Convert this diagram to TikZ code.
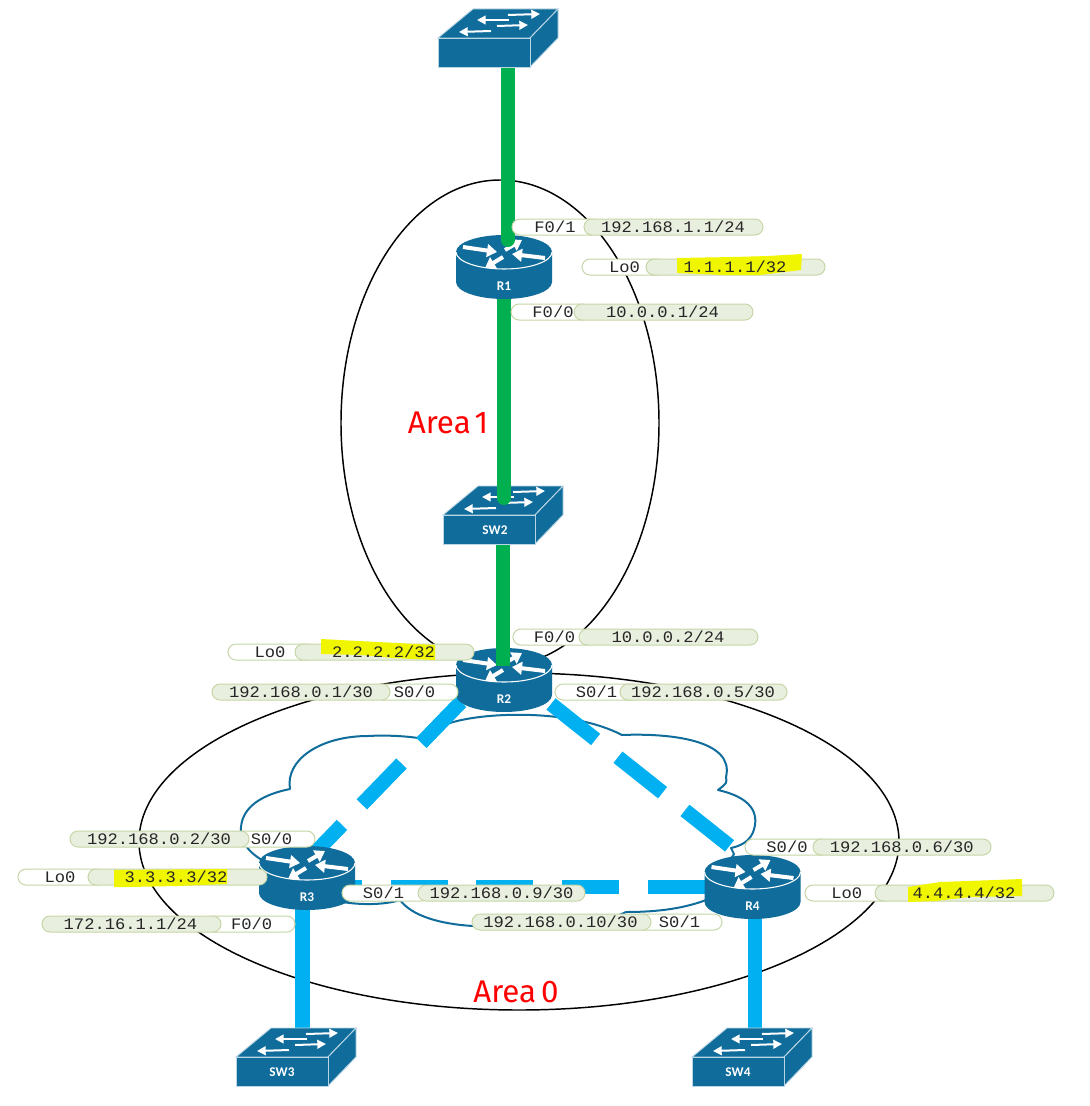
\documentclass[tikz,border=0pt]{standalone}
\usepackage{fontspec}
\setmainfont{Liberation Mono}[FakeStretch=1.07]
\newfontfamily\areafont{Fira Sans}
\newfontfamily\devfont{Carlito}[BoldFont=Carlito Bold]
\usetikzlibrary{arrows.meta}
\definecolor{devblue}{HTML}{0F6C9B}
\definecolor{devedge}{HTML}{B9D5E3}
\definecolor{linkgreen}{HTML}{00B050}
\definecolor{linkblue}{HTML}{00B0F0}
\definecolor{pillline}{HTML}{C6D6A6}
\definecolor{pillfill}{HTML}{E9EFDF}
\definecolor{marker}{HTML}{F0F500}
\tikzset{
  x=0.75pt,y=-0.75pt,
  devarrow/.style={draw=white,line width=3pt,-{Triangle[length=7.5pt,width=9.5pt]}},
  swarrow/.style={draw=white,line width=1.5pt,-{Triangle[length=6.5pt,width=6.5pt]}},
  devlabel/.style={text=white,font=\devfont\bfseries\fontsize{10}{11}\selectfont,inner sep=0pt},
  routerart/.pic={
    \fill[devblue] (-48,0) -- (-48,30) arc[start angle=180,end angle=0,x radius=48,y radius=17] -- (48,0) -- cycle;
    \fill[devblue] (0,0) ellipse[x radius=48,y radius=17];
    \draw[white,line width=0.8pt] (-48,0) arc[start angle=180,end angle=0,x radius=48,y radius=17];
    \draw[devarrow] (-41,-5) -- (-7,0);
    \draw[devarrow] (1,-2) -- (18,-12);
    \draw[devarrow] (41,6) -- (8,2);
    \draw[devarrow] (-1,5) -- (-19,16);
    \node[devlabel] (-lab) at (0,34) {#1};
  },
  switchart/.pic={
    \fill[devblue,draw=devedge,line width=0.7pt] (0,0) -- (35,-29) -- (120,-29) -- (92,0) -- cycle;
    \fill[devblue,draw=devedge,line width=0.7pt] (92,0) -- (120,-29) -- (120,0) -- (92,29) -- cycle;
    \fill[devblue,draw=devedge,line width=0.7pt] (0,0) rectangle (92,29);
    \draw[swarrow] (70,-23) -- (102,-24);
    \draw[swarrow] (71,-18) -- (39,-18);
    \draw[swarrow] (59,-12) -- (90,-13);
    \draw[swarrow] (53,-7) -- (21,-6);
    \node[devlabel] (-lab) at (46,15) {#1};
  },
  devbox/.style={inner sep=0pt,minimum width=72pt,minimum height=48pt},
  swbox/.style={inner sep=0pt,minimum width=69pt,minimum height=22pt},
  area/.style={draw=black,line width=1.1pt},
  cloudline/.style={draw=devblue,line width=1.5pt},
  greenlink/.style={draw=linkgreen,line width=10.5pt},
  bluelink/.style={draw=linkblue,line width=10.9pt},
  bluedash/.style={bluelink,dash pattern=on 42.75pt off 21.4pt},
  whitepill/.style={draw=pillline,fill=white,line width=0.75pt,rounded corners=6pt,inner sep=0pt,minimum height=12pt},
  greenpill/.style={draw=pillline,fill=pillfill,line width=0.75pt,rounded corners=6pt,inner sep=0pt,minimum height=12pt},
  pilltext/.style={inner sep=0pt,text=black!85,font=\fontsize{12}{12}\selectfont},
  areatext/.style={inner sep=0pt,text=red,font=\areafont\fontsize{23.5}{26}\selectfont},
  hl/.style={fill=marker}
}
\newcommand{\pill}[5]{\node[#5,minimum width={(#3-#2)*0.75pt}] (#1) at ({(#2+#3)/2},#4) {};}
\newcommand{\ptext}[4]{\node[pilltext] (#1) at (#2,#3) {#4};}
\begin{document}
\begin{tikzpicture}
\useasboundingbox (0,0) rectangle (1089,1106);
\fill[white] (0,0) rectangle (1089,1106);

% anchors for devices
\node[swbox] (SW1) at (484,52.5) {};
\node[swbox] (SW2) at (489,529) {};
\node[swbox] (SW3) at (282,1071.5) {};
\node[swbox] (SW4) at (738,1071.5) {};
\node[devbox] (R1) at (504,267) {};
\node[devbox] (R2) at (504,680) {};
\node[devbox] (R3) at (307,877) {};
\node[devbox] (R4) at (753.5,887) {};
\coordinate (SW1p) at (507.5,67);
\coordinate (R1p) at (507.5,240);
\coordinate (R1q) at (504,290);
\coordinate (SW2p) at (504,498);
\coordinate (SW2q) at (502.5,540);
\coordinate (R2p) at (502.5,666);
\coordinate (R2l) at (461,702);
\coordinate (R2r) at (551,704);
\coordinate (R3t) at (308,860);
\coordinate (R4t) at (731,847);
\coordinate (R4l) at (704.5,887);
\coordinate (R3r) at (340,887);
\coordinate (R3b) at (302.5,905);
\coordinate (SW3t) at (302.5,1035);
\coordinate (R4b) at (755,915);
\coordinate (SW4t) at (755,1035);

% areas
\draw[area] (500,423) ellipse[x radius=159,y radius=243];
\draw[area] (519,841.5) ellipse[x radius=380,y radius=168.5];
\node[areatext] (area1) at (448,423) {Area\hspace{0.12em}1};
\node[areatext] (area0) at (516,992) {Area\hspace{0.16em}0};

% cloud
\draw[cloudline,line join=round]
  (262,860) .. controls (245,850) and (240,838) .. (241,827)
  .. controls (243,805) and (265,794) .. (290,789)
  .. controls (285,760) and (320,736) .. (368,736)
  .. controls (385,735) and (405,736) .. (418,738)
  .. controls (425,733) .. (447,724)
  .. controls (480,712) and (570,708) .. (622,735)
  .. controls (670,733) and (735,740) .. (726,777)
  .. controls (727,783) .. (718,790)
  .. controls (740,795) and (758,805) .. (755,825)
  .. controls (753,838) and (745,845) .. (731,848)
  -- (734,854) -- (706,900)
  .. controls (680,910) and (650,912) .. (626,912)
  .. controls (590,930) and (520,928) .. (473,926)
  .. controls (440,924) and (412,916) .. (400,900)
  .. controls (385,905) and (360,905) .. (343,902)
  -- cycle;

% blue links
\draw[bluedash] (R2l) -- (R3t);
\draw[bluedash] (R2r) -- (R4t);
\draw[bluedash] (R4l) -- (R3r);
\draw[bluelink] (R3b) -- (SW3t);
\draw[bluelink] (R4b) -- (SW4t);

% devices and green links, stacked as in the reference
\pic (R3art) at (307,863) {routerart=R3};
\pic (R4art) at (752.5,872) {routerart=R4};
\pic (R2art) at (504,665) {routerart=R2};
\draw[greenlink] (SW2q) -- (R2p);
\pic (SW2art) at (443,515) {switchart={}};
\node[devlabel] (SW2lab) at (495,530) {SW2};
\draw[greenlink,line cap=round] (R1q) -- (SW2p);
\pic (R1art) at (504,252) {routerart=R1};
\draw[greenlink,line cap=round] (SW1p) -- (R1p);
\pic (SW1art) at (438,38) {switchart={}};
\pic (SW3art) at (236,1057) {switchart=SW3};
\pic (SW4art) at (692,1057) {switchart=SW4};

% R1 labels
\pill{a1}{512}{600}{227}{whitepill}\pill{a2}{584}{763}{227}{greenpill}
\ptext{a1t}{555}{227}{F0/1}\ptext{a2t}{673}{227}{192.168.1.1/24}
\pill{b1}{582}{665}{267}{whitepill}\pill{b2}{646}{825}{267}{greenpill}
\fill[hl] (677,258) -- (733,257) -- (768,256) -- (802,254) -- (801,270) -- (760,275) -- (723,275) -- (677,273) -- cycle;
\ptext{b1t}{624.5}{267}{Lo0}\ptext{b2t}{735}{267}{1.1.1.1/32}
\pill{c1}{511}{590}{312}{whitepill}\pill{c2}{574}{753}{312}{greenpill}
\ptext{c1t}{553}{312}{F0/0}\ptext{c2t}{662.5}{312}{10.0.0.1/24}
% R2 labels
\pill{d1}{513}{596}{637}{whitepill}\pill{d2}{579}{758}{637}{greenpill}
\ptext{d1t}{554.5}{637}{F0/0}\ptext{d2t}{668}{637}{10.0.0.2/24}
\pill{e1}{228}{315}{652}{whitepill}\pill{e2}{295}{474}{652}{greenpill}
\fill[hl] (321,639) -- (435,645) -- (435,660) -- (393,658) -- (361,655) -- (321,654) -- cycle;
\ptext{e1t}{270}{652}{Lo0}\ptext{e2t}{383.5}{652}{2.2.2.2/32}
\pill{f1}{375}{458}{692}{whitepill}\pill{f2}{212}{390}{692}{greenpill}
\ptext{f1t}{414.5}{692}{S0/0}\ptext{f2t}{301}{692}{192.168.0.1/30}
\pill{g1}{555}{640}{692}{whitepill}\pill{g2}{620}{787}{692}{greenpill}
\ptext{g1t}{596.5}{692}{S0/1}\ptext{g2t}{703}{692}{192.168.0.5/30}
% R3 labels
\pill{h1}{235}{315}{839}{whitepill}\pill{h2}{70}{249}{839}{greenpill}
\ptext{h1t}{271.5}{839}{S0/0}\ptext{h2t}{159}{839}{192.168.0.2/30}
\pill{i1}{18}{105}{877}{whitepill}\pill{i2}{88}{267}{877}{greenpill}
\fill[hl] (114,870) -- (227,869) -- (227,884) -- (177,886) -- (128,887) -- (114,887) -- cycle;
\ptext{i1t}{60}{877}{Lo0}\ptext{i2t}{176}{877}{3.3.3.3/32}
\pill{j1}{205}{295}{924}{whitepill}\pill{j2}{42}{221}{924}{greenpill}
\ptext{j1t}{251.7}{924}{F0/0}\ptext{j2t}{130.5}{924}{172.16.1.1/24}
\pill{k1}{342}{430}{893}{whitepill}\pill{k2}{418}{585}{893}{greenpill}
\ptext{k1t}{383.5}{893}{S0/1}\ptext{k2t}{501.5}{893}{192.168.0.9/30}
% R4 labels
\pill{l1}{635}{722}{922}{whitepill}\pill{l2}{472}{651}{922}{greenpill}
\ptext{l1t}{679.5}{922}{S0/1}\ptext{l2t}{560.5}{922}{192.168.0.10/30}
\pill{m1}{745}{830}{847}{whitepill}\pill{m2}{813}{991}{847}{greenpill}
\ptext{m1t}{787}{847}{S0/0}\ptext{m2t}{901.7}{847}{192.168.0.6/30}
\pill{n1}{805}{893}{893}{whitepill}\pill{n2}{875}{1054}{893}{greenpill}
\fill[hl] (908,887) -- (940,882) -- (1022,879) -- (1022,896) -- (970,897) -- (936,901) -- (908,902) -- cycle;
\ptext{n1t}{846.7}{893}{Lo0}\ptext{n2t}{964}{893}{4.4.4.4/32}
\end{tikzpicture}
\end{document}
